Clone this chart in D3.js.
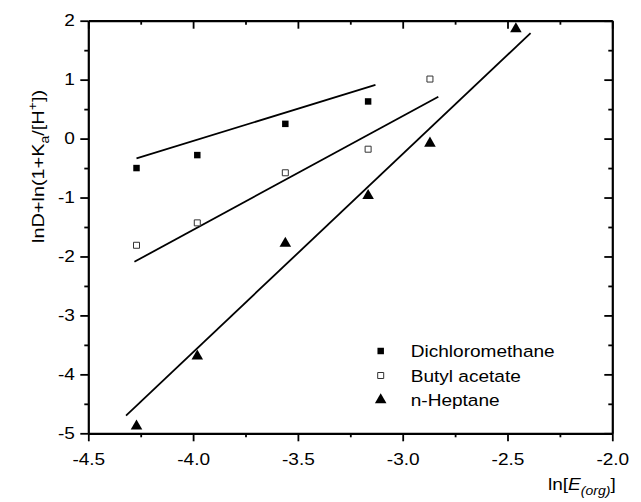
<!DOCTYPE html>
<html>
<head>
<meta charset="utf-8">
<script src="https://cdn.jsdelivr.net/npm/d3@7/dist/d3.min.js"></script>
<style>
	body { margin: 0; background: #fff; }
	text { font-family: "Liberation Sans", Arial, sans-serif; fill: #000; }
</style>
</head>
<body>
<div id="chart"></div>
<script>
// tick values
var xTicks = [-4.5, -4.0, -3.5, -3.0, -2.5, -2.0];
var xMinor = [-4.25, -3.75, -3.25, -2.75, -2.25];
var yTicks = [-5, -4, -3, -2, -1, 0, 1, 2];
var yMinor = [-4.5, -3.5, -2.5, -1.5, -0.5, 0.5, 1.5];

// ln[E(org)] values
var lnE = [-4.27, -3.98, -3.56, -3.165, -2.87, -2.46];

// series
var dcmY = [-0.50, -0.28, 0.25, 0.63];
var baY = [-1.81, -1.43, -0.58, -0.18, 1.01];
var hepY = [-4.88, -3.69, -1.78, -0.97, -0.08, 1.86];

// fitted lines (end points)
var dcmFitX = [-4.27, -3.13], dcmFitY = [-0.335, 0.91];
var baFitX = [-4.28, -2.83], baFitY = [-2.09, 0.71];
var hepFitX = [-4.32, -2.39], hepFitY = [-4.70, 1.79];

var legendNames = ['Dichloromethane', 'Butyl acetate', 'n-Heptane'];

var W = 641, H = 502;
var m = {left: 88.3, right: 612.3, top: 20.7, bottom: 433.3};
var sx = 1.17; // text looks stretched horizontally

var svg = d3.select('#chart').append('svg').attr('width', W).attr('height', H);

var x = d3.scaleLinear().domain([-4.5, -2.0]).range([m.left, m.right]);
var y = d3.scaleLinear().domain([-5, 2]).range([m.bottom, m.top]);

function styleAxis(g) {
	g.selectAll('path.domain').attr('stroke', '#000').attr('stroke-width', 2.2);
	g.selectAll('.tick line').attr('stroke', '#000').attr('stroke-width', 1.8);
}

// bottom axis
var gb = svg.append('g').attr('transform', 'translate(0,' + m.bottom + ')')
	.call(d3.axisBottom(x).tickValues(xTicks).tickSizeInner(8).tickSizeOuter(0).tickPadding(12)
		.tickFormat(function(d) { return d.toFixed(1); }));
gb.append('g').call(d3.axisBottom(x).tickValues(xMinor).tickSize(4).tickFormat(''))
	.select('path.domain').remove();
styleAxis(gb);
gb.selectAll('text').attr('font-size', '16.3px').attr('transform', 'scale(' + sx + ',1)');

// top axis (mirror ticks pointing into plot)
var gt = svg.append('g').attr('transform', 'translate(0,' + m.top + ')')
	.call(d3.axisBottom(x).tickValues(xTicks).tickSizeInner(8).tickSizeOuter(0).tickFormat(''));
gt.append('g').call(d3.axisBottom(x).tickValues(xMinor).tickSize(4).tickFormat(''))
	.select('path.domain').remove();
styleAxis(gt);

// left axis
var gl = svg.append('g').attr('transform', 'translate(' + m.left + ',0)')
	.call(d3.axisLeft(y).tickValues(yTicks).tickSizeInner(8).tickSizeOuter(0).tickPadding(3.4)
		.tickFormat(function(d) { return String(d); }));
gl.append('g').call(d3.axisLeft(y).tickValues(yMinor).tickSize(4).tickFormat(''))
	.select('path.domain').remove();
styleAxis(gl);
gl.selectAll('text').attr('font-size', '16.3px').attr('transform', 'scale(' + sx + ',1)');

// right axis
var gr = svg.append('g').attr('transform', 'translate(' + m.right + ',0)')
	.call(d3.axisLeft(y).tickValues(yTicks).tickSizeInner(8).tickSizeOuter(0).tickFormat(''));
gr.append('g').call(d3.axisLeft(y).tickValues(yMinor).tickSize(4).tickFormat(''))
	.select('path.domain').remove();
styleAxis(gr);

// fit lines
var fits = [[dcmFitX, dcmFitY], [baFitX, baFitY], [hepFitX, hepFitY]];
var line = d3.line().x(function(d) { return x(d[0]); }).y(function(d) { return y(d[1]); });
fits.forEach(function(f) {
	svg.append('path')
		.attr('d', line(d3.zip(f[0], f[1])))
		.attr('fill', 'none').attr('stroke', '#000').attr('stroke-width', 1.8);
});

// markers
var sqFilled = d3.symbol().type(d3.symbolSquare).size(42);
var sqOpen = d3.symbol().type(d3.symbolSquare).size(36);
var tri = d3.symbol().type(d3.symbolTriangle).size(58);

svg.append('g').selectAll('path').data(d3.zip(lnE, dcmY)).enter().append('path')
	.attr('d', sqFilled).attr('fill', '#000')
	.attr('transform', function(d) { return 'translate(' + x(d[0]) + ',' + y(d[1]) + ')'; });
svg.append('g').selectAll('path').data(d3.zip(lnE, baY)).enter().append('path')
	.attr('d', sqOpen).attr('fill', '#fff').attr('stroke', '#333').attr('stroke-width', 1)
	.attr('transform', function(d) { return 'translate(' + x(d[0]) + ',' + y(d[1]) + ')'; });
svg.append('g').selectAll('path').data(d3.zip(lnE, hepY)).enter().append('path')
	.attr('d', tri).attr('fill', '#000')
	.attr('transform', function(d) { return 'translate(' + x(d[0]) + ',' + y(d[1]) + ')'; });

// legend
var lg = svg.append('g').attr('transform', 'translate(380.7,351)');
var legendSym = [
	function(s) { s.attr('d', sqFilled).attr('fill', '#000'); },
	function(s) { s.attr('d', sqOpen).attr('fill', '#fff').attr('stroke', '#333').attr('stroke-width', 1); },
	function(s) { s.attr('d', tri).attr('fill', '#000'); }
];
legendNames.forEach(function(name, i) {
	lg.append('path').attr('transform', 'translate(0,' + (i * 24.5) + ')').call(legendSym[i]);
	lg.append('text').attr('transform', 'translate(30,' + (i * 24.5 + 6) + ') scale(' + sx + ',1)')
		.attr('font-size', '16.3px').text(name);
});

// x axis title
var xt = svg.append('text').attr('transform', 'translate(548,490) scale(' + sx + ',1)')
	.attr('font-size', '16.3px');
xt.append('tspan').text('ln[');
xt.append('tspan').attr('font-style', 'italic').text('E');
xt.append('tspan').attr('font-style', 'italic').attr('font-size', '12px').attr('dy', 5).text('(org)');
xt.append('tspan').attr('dy', -5).text(']');

// y axis title
var yt = svg.append('text').attr('transform', 'translate(44,243) rotate(-90) scale(' + sx + ',1)')
	.attr('font-size', '17px');
yt.append('tspan').text('lnD+ln(1+K');
yt.append('tspan').attr('font-size', '12px').attr('dy', 5).text('a');
yt.append('tspan').attr('dy', -5).text('/[H');
yt.append('tspan').attr('font-size', '12px').attr('dy', -7).text('+');
yt.append('tspan').attr('dy', 7).text('])');
</script>
</body>
</html>
